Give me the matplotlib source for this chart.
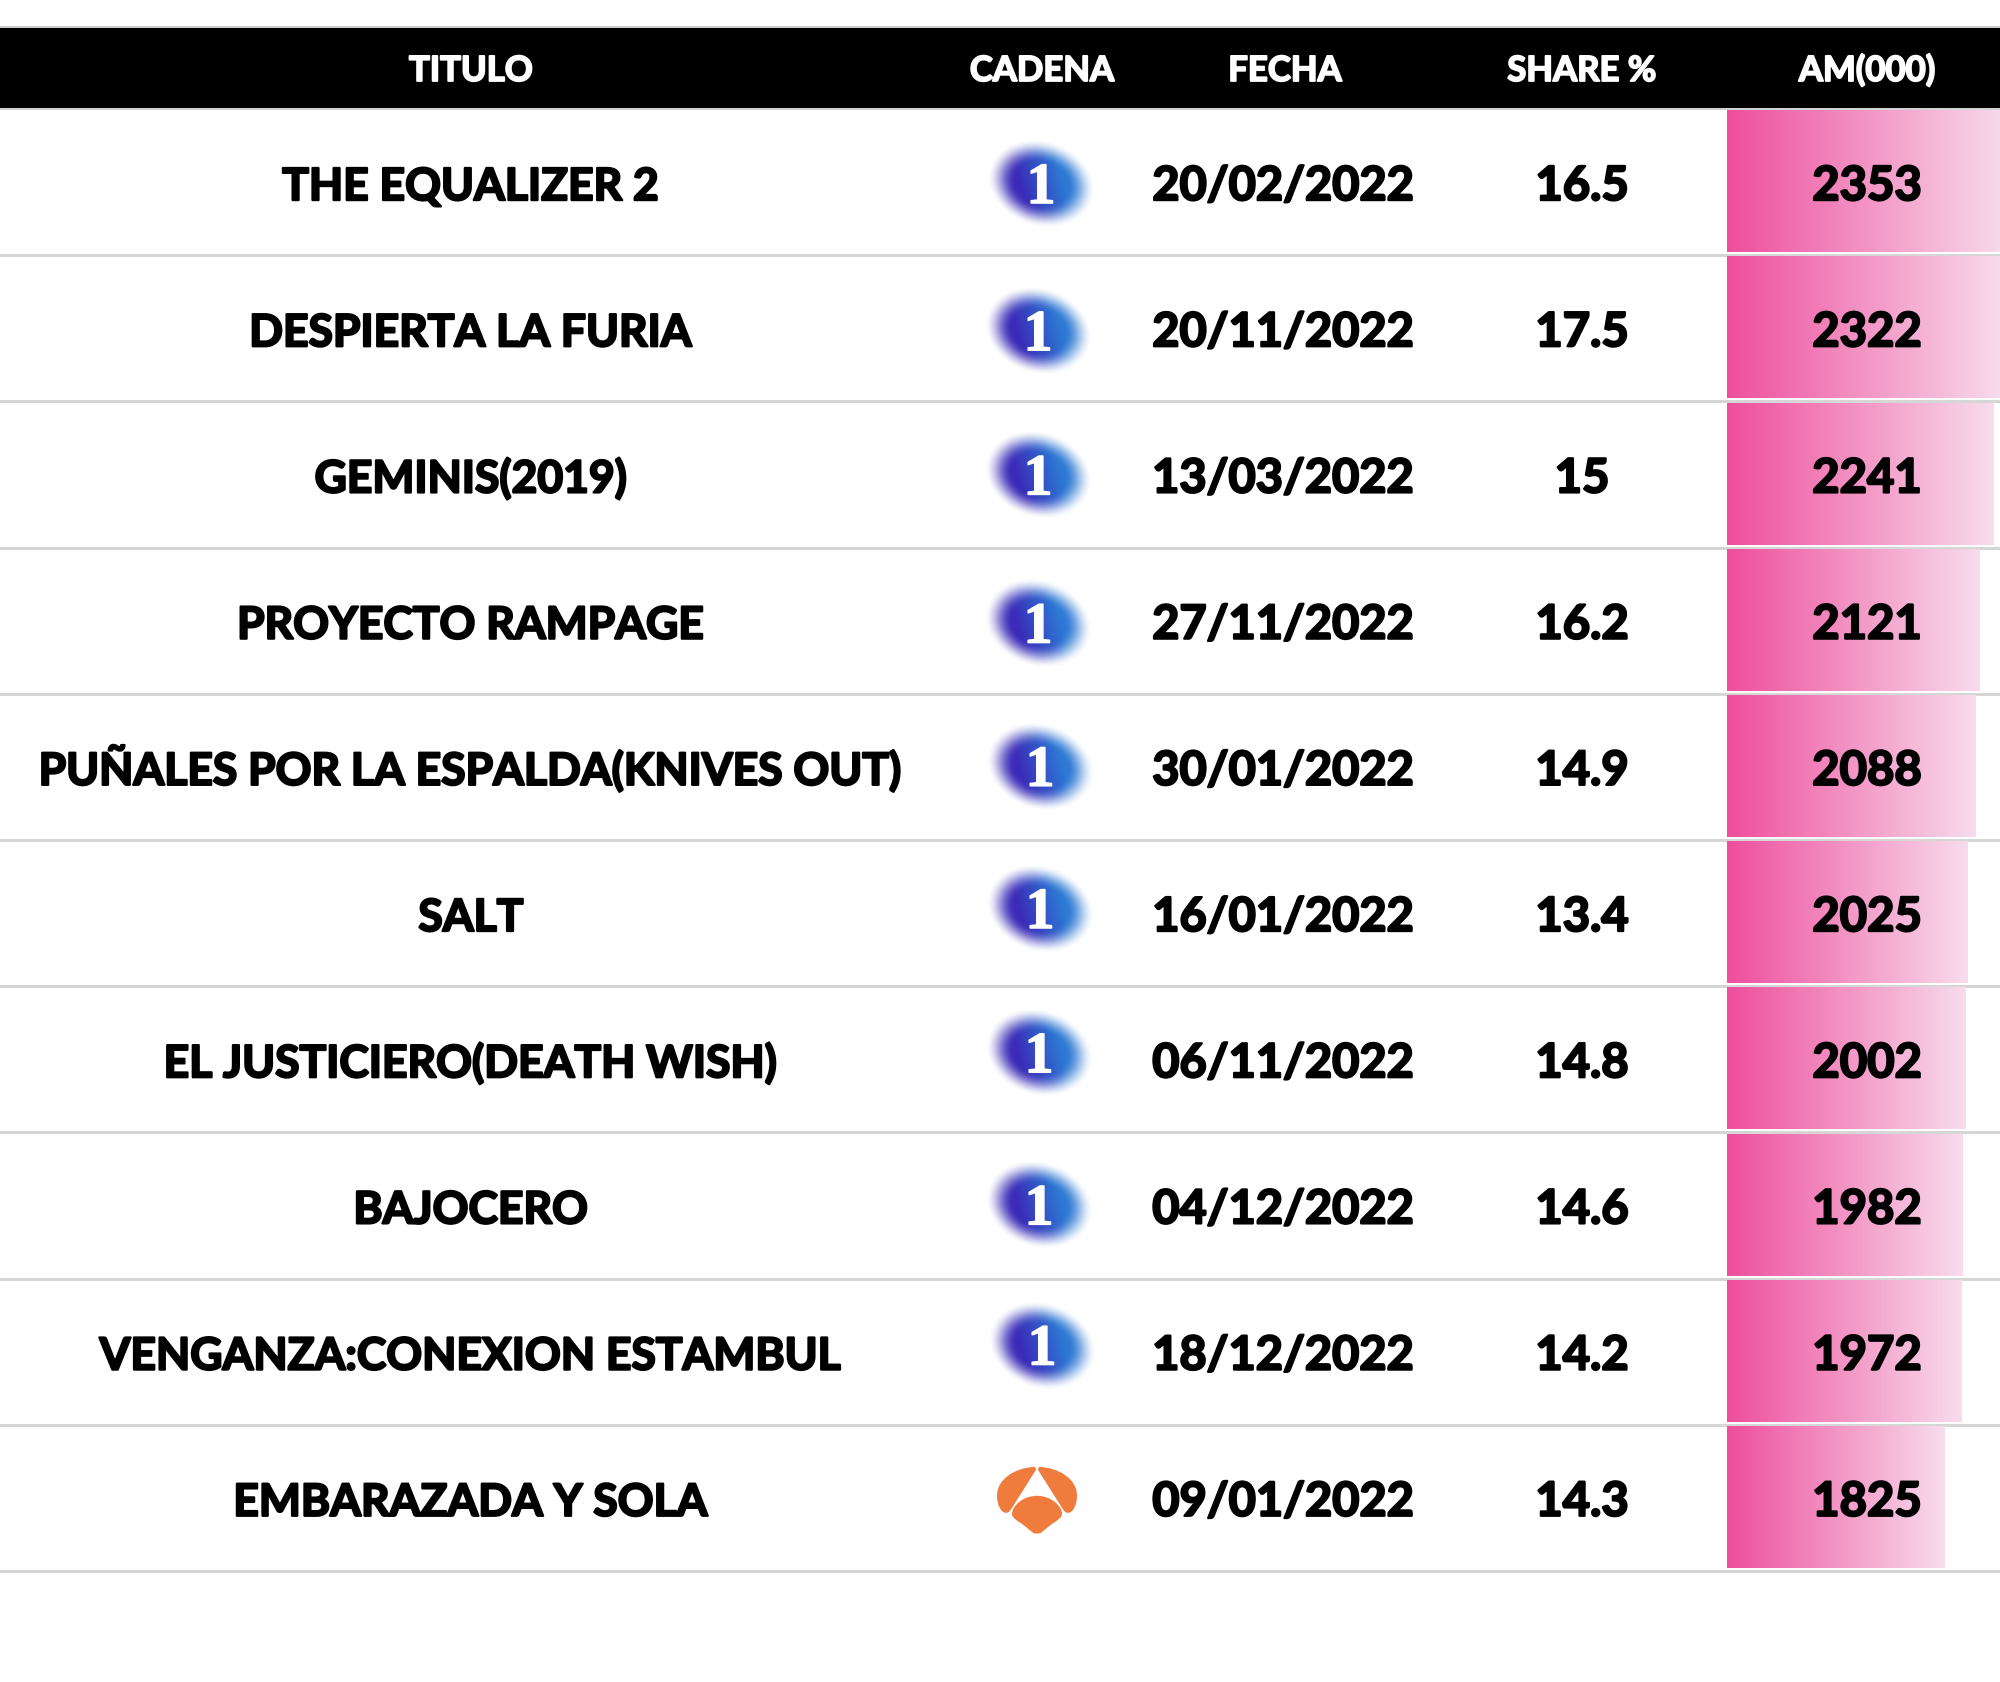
#!/usr/bin/python3
import numpy as np
import matplotlib
matplotlib.use("Agg")
import matplotlib.pyplot as plt
import matplotlib.patheffects as pe
from matplotlib.colors import LinearSegmentedColormap
from matplotlib.patches import PathPatch
from matplotlib.path import Path

headers = ["TITULO", "CADENA", "FECHA", "SHARE %", "AM(000)"]
titulos = ["THE EQUALIZER 2", "DESPIERTA LA FURIA", "GEMINIS(2019)", "PROYECTO RAMPAGE",
           "PUÑALES POR LA ESPALDA(KNIVES OUT)", "SALT", "EL JUSTICIERO(DEATH WISH)",
           "BAJOCERO", "VENGANZA:CONEXION ESTAMBUL", "EMBARAZADA Y SOLA"]
cadenas = ["La 1", "La 1", "La 1", "La 1", "La 1", "La 1", "La 1", "La 1", "La 1", "Antena 3"]
fechas = ["20/02/2022", "20/11/2022", "13/03/2022", "27/11/2022", "30/01/2022",
          "16/01/2022", "06/11/2022", "04/12/2022", "18/12/2022", "09/01/2022"]
shares = [16.5, 17.5, 15, 16.2, 14.9, 13.4, 14.8, 14.6, 14.2, 14.3]
audiencia = [2353, 2322, 2241, 2121, 2088, 2025, 2002, 1982, 1972, 1825]
# the logo sits a bit differently in each row
logo_dx = [3, 0, 0, 0, 2, 2, 1, 1, 4, 0]
logo_dy = [0, 1, -1, 1, -2, -6, -8, -2, -8, 0]

FONT = "Lato"
col_x = [471, 1042, 1285, 1582, 1867]
header_top, header_bot = 29, 109
row_h = 146.19
bar_x0 = 1727
bar_scale = 0.119

fig = plt.figure(figsize=(20, 16.83), dpi=100)
ax = fig.add_axes([0, 0, 1, 1])

pink = LinearSegmentedColormap.from_list("pink_fade", ["#EE4E9D", "#F8DCEC"])
grad = np.linspace(0, 1, 256).reshape(1, -1)


def heavy(x, y, s, size, color="black", sw=1.6, zorder=3):
    # Lato stops at bold here, a thin stroke brings it up to the black weight
    ax.text(x, y, s, color=color, fontsize=size, family=FONT, fontweight="bold", ha="center", va="baseline",
            zorder=zorder, path_effects=[pe.withStroke(linewidth=sw, foreground=color)])


def draw_la1(cx, cy):
    # blurred blue blob behind the 1
    w, h = 140, 120
    yy, xx = np.mgrid[-h / 2:h / 2, -w / 2:w / 2]
    t = np.radians(-18)
    u = xx * np.cos(t) - yy * np.sin(t)
    v = xx * np.sin(t) + yy * np.cos(t)
    r = np.sqrt((u / 38) ** 2 + (v / 30) ** 2)
    alpha = np.clip((1.45 - r) / 0.75, 0, 1)
    alpha = alpha * alpha * (3 - 2 * alpha)
    mix = np.clip((xx - yy * 0.3 + 22) / 44, 0, 1)[..., None]
    left = np.array(matplotlib.colors.to_rgb("#3B2BB8"))
    right = np.array(matplotlib.colors.to_rgb("#2C78D4"))
    rgba = np.dstack([left * (1 - mix) + right * mix, alpha])
    ax.imshow(rgba, extent=(cx - w / 2, cx + w / 2, cy + h / 2, cy - h / 2), aspect="auto",
              interpolation="bilinear", zorder=2)
    ax.text(cx, cy + 20, "1", color="white", fontsize=42, fontweight="bold", family="Liberation Serif",
            ha="center", va="baseline", zorder=3, path_effects=[pe.withStroke(linewidth=1, foreground="white")])


def draw_antena3(cx, cy):
    M, L, C, Z = Path.MOVETO, Path.LINETO, Path.CURVE4, Path.CLOSEPOLY
    lobe = [(-2, -32), (-22, -31), (-40, -20), (-40, -3), (-40, 6), (-36, 14), (-31, 14), (-28, 14), (-27, 12),
            (-25, 9), (-1, -29), (-2, -32)]
    lobe_codes = [M, C, C, C, C, C, C, C, C, C, L, Z]
    base = [(0, -3), (15, -3), (25, 8), (25, 15), (25, 19), (20, 22), (15, 25), (4, 34), (2, 35), (-2, 35), (-4, 34),
            (-15, 25), (-20, 22), (-25, 19), (-25, 15), (-25, 8), (-15, -3), (0, -3)]
    base_codes = [M, C, C, C, C, C, C, L, C, C, C, L, C, C, C, C, C, C]
    shapes = [(lobe, lobe_codes), ([(-a, b) for a, b in lobe], lobe_codes), (base, base_codes)]
    for pts, codes in shapes:
        p = Path([(cx + a, cy + b) for a, b in pts], codes)
        ax.add_patch(PathPatch(p, facecolor="#EF7B3C", edgecolor="none", zorder=2))


# header band
ax.axhspan(header_top - 2, header_top, color="#C9C9C9", lw=0, zorder=0)
ax.axhspan(header_top, header_bot, color="black", lw=0, zorder=1)
ax.axhspan(header_bot, header_bot + 2, color="#D2D2D2", lw=0, zorder=0)
for x, h in zip(col_x, headers):
    heavy(x, 82, h, 25, color="white", sw=1.3)

for i in range(len(titulos)):
    top = header_bot + 1 + i * row_h
    cy = top + row_h / 2 + 1
    base_y = cy + 17
    ax.axhline(top + row_h, color="#D6D6D6", lw=2.2, zorder=1)

    # gradient bar, clipped by the right edge of the figure
    ax.imshow(grad, cmap=pink, extent=(bar_x0, bar_x0 + audiencia[i] * bar_scale, top + row_h - 3, top + 2),
              aspect="auto", zorder=1)

    heavy(col_x[0], base_y, titulos[i], 32)
    heavy(col_x[2] - 2, base_y, fechas[i], 33.8)
    heavy(col_x[3], base_y, str(shares[i]), 34)
    heavy(col_x[4], base_y, str(audiencia[i]), 34)

    if cadenas[i] == "La 1":
        draw_la1(1038 + logo_dx[i], cy + logo_dy[i])
    else:
        draw_antena3(1037, cy)

ax.set_xlim(0, 2000)
ax.set_ylim(1683, 0)
ax.axis("off")

fig.savefig("out.png", dpi=100, facecolor="white")
